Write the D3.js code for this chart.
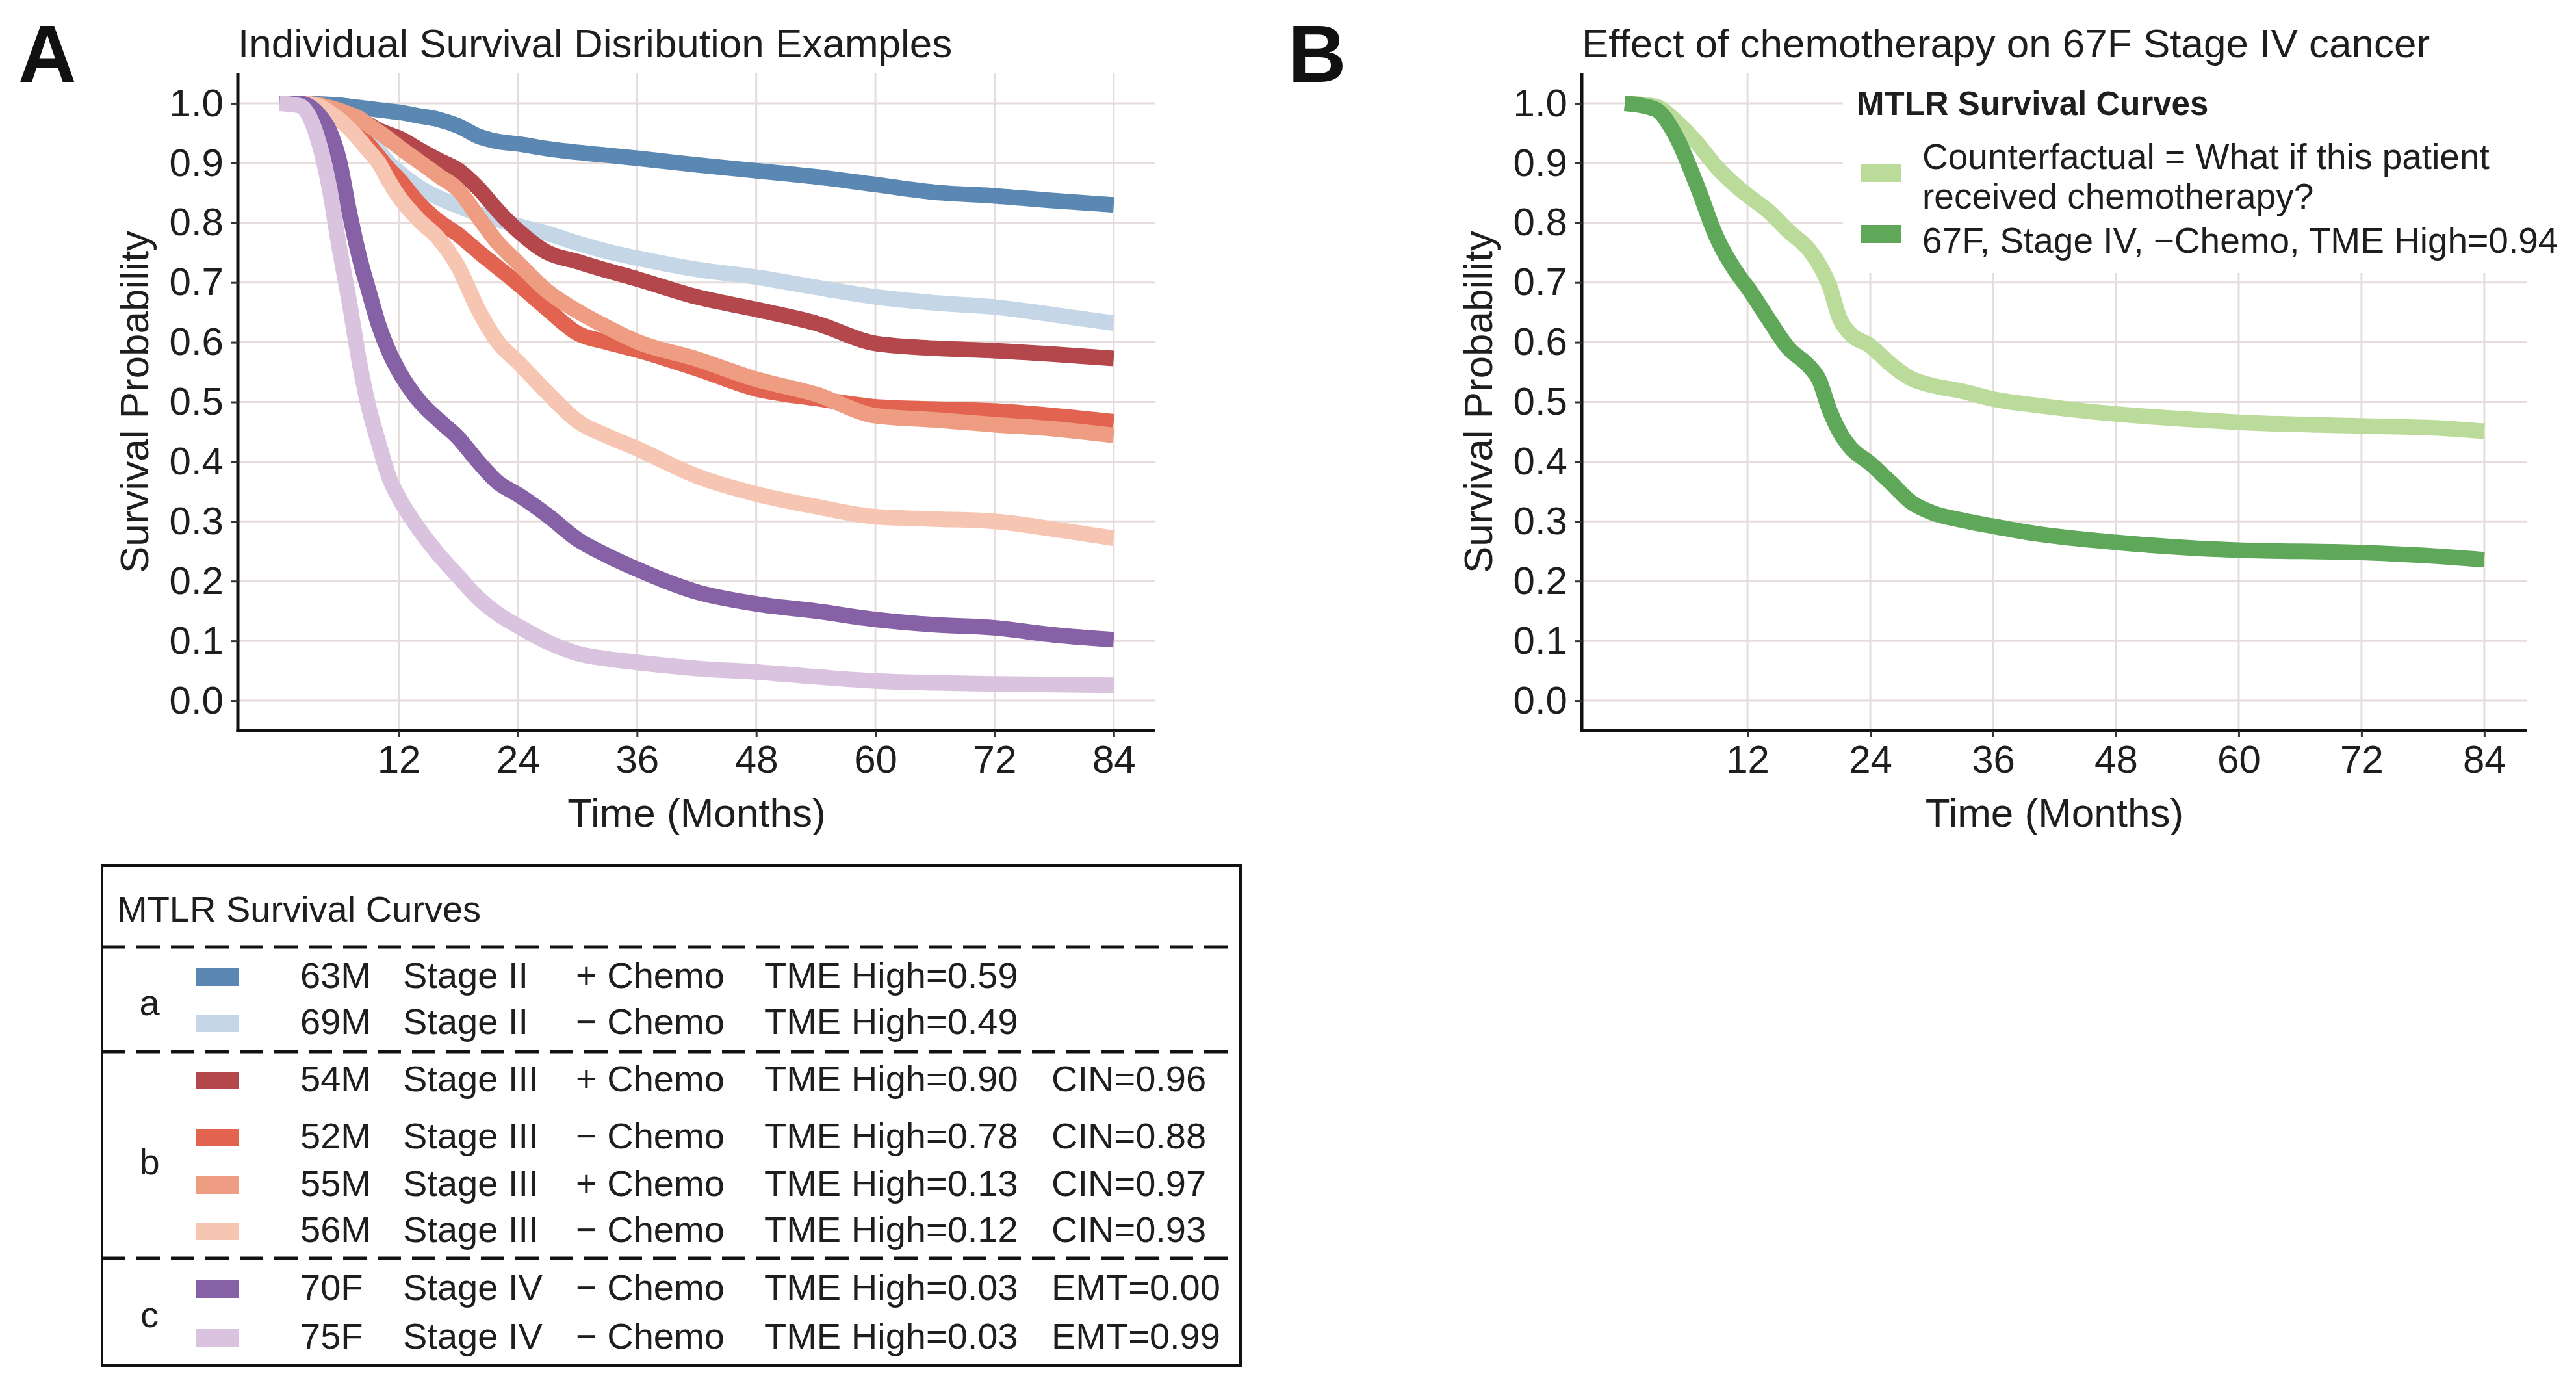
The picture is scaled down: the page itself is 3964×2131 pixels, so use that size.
<!DOCTYPE html>
<html>
<head>
<meta charset="utf-8">
<script src="https://cdn.jsdelivr.net/npm/d3@7"></script>
<style>
  body { margin: 0; background: #fff; }
  svg { display: block; font-family: "Liberation Sans", Arial, sans-serif; }
</style>
</head>
<body>
<svg id="chart" width="3964" height="2131"></svg>
<script>
// ---- data ----
const xTicks = [12, 24, 36, 48, 60, 72, 84];
const yTicks = [0, 0.1, 0.2, 0.3, 0.4, 0.5, 0.6, 0.7, 0.8, 0.9, 1.0];

// panel A: month grid shared by all curves
const timeA = [0, 2, 4, 5, 6, 7, 8, 9, 10, 11, 12, 14, 16, 18, 20, 22, 24, 27, 30, 33, 36, 42, 48, 54, 60, 66, 72, 78, 84];
const s63M = [1, 1, 0.999, 0.998, 0.997, 0.995, 0.993, 0.991, 0.989, 0.987, 0.985, 0.979, 0.973, 0.962, 0.945, 0.936, 0.932, 0.924, 0.918, 0.913, 0.908, 0.897, 0.887, 0.877, 0.864, 0.851, 0.845, 0.837, 0.83];
const s69M = [1, 1, 0.995, 0.988, 0.978, 0.967, 0.954, 0.938, 0.92, 0.9, 0.885, 0.86, 0.842, 0.828, 0.815, 0.805, 0.795, 0.782, 0.766, 0.752, 0.741, 0.722, 0.709, 0.692, 0.676, 0.666, 0.659, 0.646, 0.632];
const s54M = [1, 1, 0.994, 0.99, 0.985, 0.979, 0.972, 0.964, 0.955, 0.948, 0.942, 0.923, 0.905, 0.888, 0.858, 0.82, 0.787, 0.75, 0.735, 0.72, 0.706, 0.676, 0.655, 0.632, 0.598, 0.59, 0.586, 0.58, 0.573];
const s52M = [1, 1, 0.995, 0.988, 0.978, 0.965, 0.948, 0.93, 0.91, 0.89, 0.873, 0.833, 0.803, 0.78, 0.752, 0.725, 0.698, 0.655, 0.615, 0.6, 0.587, 0.556, 0.522, 0.506, 0.492, 0.488, 0.485, 0.477, 0.467];
const s55M = [1, 1, 0.997, 0.993, 0.988, 0.982, 0.975, 0.963, 0.952, 0.94, 0.927, 0.903, 0.879, 0.855, 0.81, 0.766, 0.733, 0.685, 0.652, 0.625, 0.601, 0.572, 0.538, 0.513, 0.477, 0.47, 0.462, 0.455, 0.444];
const s56M = [1, 1, 0.995, 0.985, 0.973, 0.958, 0.94, 0.92, 0.9, 0.87, 0.844, 0.805, 0.774, 0.726, 0.655, 0.6, 0.567, 0.515, 0.468, 0.443, 0.422, 0.376, 0.346, 0.325, 0.308, 0.304, 0.3, 0.287, 0.272];
const s70F = [1, 1, 0.98, 0.955, 0.905, 0.82, 0.745, 0.685, 0.628, 0.585, 0.552, 0.503, 0.47, 0.44, 0.4, 0.365, 0.345, 0.31, 0.27, 0.243, 0.22, 0.182, 0.162, 0.15, 0.136, 0.127, 0.122, 0.11, 0.102];
const s75F = [1, 0.996, 0.932, 0.86, 0.76, 0.67, 0.57, 0.49, 0.43, 0.375, 0.34, 0.288, 0.245, 0.208, 0.172, 0.145, 0.125, 0.098, 0.079, 0.07, 0.064, 0.054, 0.048, 0.04, 0.033, 0.03, 0.028, 0.027, 0.026];

// panel B
const timeB = [0, 3, 5, 7, 9, 11, 12, 14, 16, 18, 19, 20, 21, 22, 24, 26, 28, 30, 33, 36, 40, 48, 56, 60, 72, 80, 84];
const sCounter = [1, 0.995, 0.97, 0.935, 0.893, 0.86, 0.846, 0.82, 0.786, 0.755, 0.73, 0.695, 0.64, 0.615, 0.594, 0.563, 0.539, 0.528, 0.518, 0.505, 0.495, 0.48, 0.47, 0.466, 0.46, 0.456, 0.451];
const s67F = [1, 0.99, 0.945, 0.865, 0.775, 0.715, 0.692, 0.64, 0.59, 0.56, 0.537, 0.487, 0.45, 0.425, 0.397, 0.365, 0.332, 0.315, 0.302, 0.292, 0.28, 0.265, 0.255, 0.252, 0.248, 0.241, 0.236];

// legend table for panel A
const groupsA = ["a", "b", "c"];
const patientsA = [
  { group: "a", age: "63M", stage: "Stage II",  chemo: "+ Chemo", tme: "TME High=0.59", extra: "",         color: "#5b88b2", values: s63M },
  { group: "a", age: "69M", stage: "Stage II",  chemo: "\u2212 Chemo", tme: "TME High=0.49", extra: "",         color: "#c5d7e7", values: s69M },
  { group: "b", age: "54M", stage: "Stage III", chemo: "+ Chemo", tme: "TME High=0.90", extra: "CIN=0.96", color: "#b3474b", values: s54M },
  { group: "b", age: "52M", stage: "Stage III", chemo: "\u2212 Chemo", tme: "TME High=0.78", extra: "CIN=0.88", color: "#e2634f", values: s52M },
  { group: "b", age: "55M", stage: "Stage III", chemo: "+ Chemo", tme: "TME High=0.13", extra: "CIN=0.97", color: "#ee9d82", values: s55M },
  { group: "b", age: "56M", stage: "Stage III", chemo: "\u2212 Chemo", tme: "TME High=0.12", extra: "CIN=0.93", color: "#f7c6b2", values: s56M },
  { group: "c", age: "70F", stage: "Stage IV",  chemo: "\u2212 Chemo", tme: "TME High=0.03", extra: "EMT=0.00", color: "#8761a6", values: s70F },
  { group: "c", age: "75F", stage: "Stage IV",  chemo: "\u2212 Chemo", tme: "TME High=0.03", extra: "EMT=0.99", color: "#d9c3df", values: s75F }
];

const seriesB = [
  { label: ["Counterfactual = What if this patient", "received chemotherapy?"], color: "#bbdb9a", values: sCounter },
  { label: ["67F, Stage IV, \u2212Chemo, TME High=0.94"], color: "#5fa85a", values: s67F }
];

// ---- drawing ----
const svg = d3.select("#chart");
svg.append("rect").attr("width", 3964).attr("height", 2131).attr("fill", "#fff");

const textColor = "#1e1e1e";
const y = d3.scaleLinear().domain([-0.05, 1.05]).range([1124, 113]);

function drawPanel(opts) {
    const x = d3.scaleLinear().domain([-4.2, 88.2]).range(opts.xRange);
    const g = svg.append("g");
    const [x0, x1] = opts.xRange;
    const [y1, y0] = y.range();

    // grid
    g.append("g").selectAll("line").data(yTicks).enter().append("line")
        .attr("x1", x0).attr("x2", x1)
        .attr("y1", d => y(d)).attr("y2", d => y(d))
        .attr("stroke", "#e6dcdc").attr("stroke-width", 3);
    g.append("g").selectAll("line").data(xTicks).enter().append("line")
        .attr("x1", d => x(d)).attr("x2", d => x(d))
        .attr("y1", y0).attr("y2", y1)
        .attr("stroke", "#e6dcdc").attr("stroke-width", 3);

    if (opts.beforeLines) opts.beforeLines(g, x);

    // curves
    const line = d3.line()
        .x(d => x(d[0]))
        .y(d => y(d[1]))
        .curve(d3.curveMonotoneX);

    opts.series.forEach(s => {
        g.append("path")
            .datum(opts.time.map((t, i) => [t, s.values[i]]))
            .attr("fill", "none")
            .attr("stroke", s.color)
            .attr("stroke-width", 24)
            .attr("stroke-linejoin", "round")
            .attr("d", line);
    });

    // axes
    const xAxis = g.append("g")
        .attr("transform", `translate(0,${y1})`)
        .call(d3.axisBottom(x).tickValues(xTicks).tickSize(10).tickSizeOuter(0).tickPadding(12));
    const yAxis = g.append("g")
        .attr("transform", `translate(${x0},0)`)
        .call(d3.axisLeft(y).tickValues(yTicks).tickFormat(d3.format(".1f")).tickSize(11).tickSizeOuter(0).tickPadding(11));

    [xAxis, yAxis].forEach(a => {
        a.select(".domain").attr("stroke", "#111").attr("stroke-width", 5);
        a.selectAll(".tick line").attr("stroke", "#333").attr("stroke-width", 3);
        a.selectAll(".tick text")
            .attr("font-size", 60)
            .attr("font-family", "Liberation Sans, Arial, sans-serif")
            .attr("fill", textColor);
    });
    // stretch axis lines to overlap at the corner
    xAxis.select(".domain").attr("d", `M${x0 - 2.5},0H${x1}`);
    yAxis.select(".domain").attr("d", `M0,${y0}V${y1 + 2.5}`);

    // titles
    g.append("text")
        .attr("x", x0).attr("y", 88)
        .attr("font-size", 62).attr("fill", textColor)
        .text(opts.title);
    g.append("text")
        .attr("x", opts.letterX).attr("y", 126)
        .attr("font-size", 124).attr("font-weight", "bold").attr("fill", "#111")
        .text(opts.letter);
    g.append("text")
        .attr("x", (x0 + x1) / 2).attr("y", 1272)
        .attr("text-anchor", "middle")
        .attr("font-size", 62).attr("fill", textColor)
        .text("Time (Months)");
    g.append("text")
        .attr("transform", `translate(${opts.yTitleX},${(y0 + y1) / 2}) rotate(-90)`)
        .attr("text-anchor", "middle")
        .attr("font-size", 62).attr("fill", textColor)
        .text("Survival Probability");
}

drawPanel({
    xRange: [366, 1778],
    time: timeA,
    series: patientsA,
    title: "Individual Survival Disribution Examples",
    letter: "A", letterX: 28,
    yTitleX: 228
});

drawPanel({
    xRange: [2434, 3889],
    time: timeB,
    series: seriesB,
    title: "Effect of chemotherapy on 67F Stage IV cancer",
    letter: "B", letterX: 1982,
    yTitleX: 2296,
    beforeLines: function(g) {
        // legend background hides the grid
        g.append("rect")
            .attr("x", 2836).attr("y", 108)
            .attr("width", 3964 - 2836).attr("height", 312)
            .attr("fill", "#fff");
    }
});

// ---- legend B ----
const legB = svg.append("g");
legB.append("text")
    .attr("x", 2857).attr("y", 177)
    .attr("font-size", 51).attr("font-weight", "bold").attr("fill", textColor)
    .text("MTLR Survival Curves");
const keyYB = [252, 346];
const textYB = [[260, 321], [389]];
seriesB.forEach((s, i) => {
    legB.append("rect")
        .attr("x", 2864).attr("y", keyYB[i])
        .attr("width", 62).attr("height", 28)
        .attr("fill", s.color);
    s.label.forEach((t, j) => {
        legB.append("text")
            .attr("x", 2958).attr("y", textYB[i][j])
            .attr("font-size", 55).attr("fill", textColor)
            .text(t);
    });
});

// ---- legend A (table) ----
const legA = svg.append("g");
const boxL = 157, boxR = 1909, boxT = 1332, boxB = 2101;
legA.append("rect")
    .attr("x", boxL).attr("y", boxT)
    .attr("width", boxR - boxL).attr("height", boxB - boxT)
    .attr("fill", "#fff").attr("stroke", "#111").attr("stroke-width", 4);
legA.append("text")
    .attr("x", 180).attr("y", 1418)
    .attr("font-size", 56).attr("fill", textColor)
    .text("MTLR Survival Curves");

const dashY = [1457, 1618, 1936];
legA.selectAll("line.sep").data(dashY).enter().append("line")
    .attr("x1", boxL).attr("x2", boxR)
    .attr("y1", d => d).attr("y2", d => d)
    .attr("stroke", "#111").attr("stroke-width", 5)
    .attr("stroke-dasharray", "36,17");

const rowY = [1500, 1571, 1659, 1747, 1820, 1891, 1980, 2055];
const groupY = { a: 1562, b: 1807, c: 2042 };
groupsA.forEach(gk => {
    legA.append("text")
        .attr("x", 230).attr("y", groupY[gk])
        .attr("text-anchor", "middle")
        .attr("font-size", 56).attr("fill", textColor)
        .text(gk);
});

const cols = [
    { key: "age", x: 462 },
    { key: "stage", x: 620 },
    { key: "chemo", x: 886 },
    { key: "tme", x: 1176 },
    { key: "extra", x: 1618 }
];
patientsA.forEach((p, i) => {
    const cy = rowY[i];
    legA.append("rect")
        .attr("x", 301).attr("y", cy - 10)
        .attr("width", 67).attr("height", 27)
        .attr("fill", p.color);
    cols.forEach(c => {
        legA.append("text")
            .attr("x", c.x).attr("y", cy + 20)
            .attr("font-size", 56).attr("fill", textColor)
            .text(p[c.key]);
    });
});
</script>
</body>
</html>
